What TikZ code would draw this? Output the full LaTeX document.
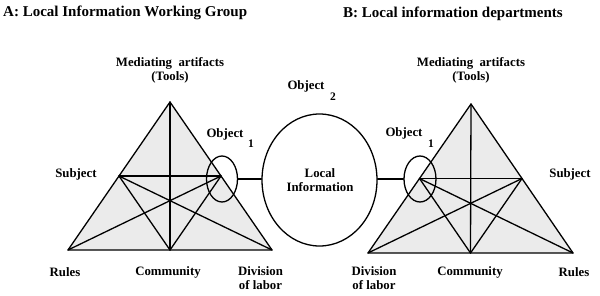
\documentclass[tikz,border=0pt]{standalone}
\usepackage{fontspec}
\setmainfont{Liberation Serif}
\usetikzlibrary{shapes.geometric,calc}
\begin{document}
\begin{tikzpicture}[x=1pt,y=-1pt,
 lbl/.style={font=\bfseries\fontsize{12.8}{14}\selectfont, inner sep=0pt, align=center},
 ttl/.style={font=\bfseries\fontsize{15}{17}\selectfont, inner sep=0pt},
 subn/.style={font=\bfseries\fontsize{11.5}{12}\selectfont, inner sep=0pt},
 edge/.style={line width=1.3pt, line join=round, line cap=round},
 tri/.style={fill=black!8, line width=1.3pt, line join=round},
 oval/.style={draw, ellipse, line width=1.3pt, inner sep=0pt}]
\useasboundingbox (0,0) rectangle (600,295);

% titles
\node[ttl, anchor=west] (tA) at (3,13) {A: Local Information Working Group};
\node[ttl] (tB) at (453,14) {B: Local information departments};

% ---------- left triangle ----------
\coordinate (Lap) at (170,102);
\coordinate (Lr) at (68,250);
\coordinate (Ld) at (272,250);
\coordinate (Ls) at ($(Lap)!0.5!(Lr)$);
\coordinate (Lo) at ($(Lap)!0.5!(Ld)$);
\coordinate (Lc) at ($(Lr)!0.5!(Ld)$);
\draw[tri] (Lap) -- (Lr) -- (Ld) -- cycle;
\draw[edge] (Lap) -- (Lc);
\draw[edge] (Ls) -- (Lo);
\draw[edge] (Ls) -- (Lc);
\draw[edge] (Lo) -- (Lc);
\draw[edge] (Ls) -- (Ld);
\draw[edge] (Lo) -- (Lr);

% ---------- right triangle ----------
\coordinate (Rap) at (471,104);
\coordinate (Rd) at (368,253);
\coordinate (Rr) at (573,253);
\coordinate (Ro) at ($(Rap)!0.5!(Rd)$);
\coordinate (Rs) at ($(Rap)!0.5!(Rr)$);
\coordinate (Rc) at ($(Rd)!0.5!(Rr)$);
\draw[tri] (Rap) -- (Rd) -- (Rr) -- cycle;
\draw[edge] (Rap) -- (Rc);
\draw[edge] (Ro) -- (Rs);
\draw[edge] (Ro) -- (Rc);
\draw[edge] (Rs) -- (Rc);
\draw[edge] (Ro) -- (Rr);
\draw[edge] (Rs) -- (Rd);

% ---------- ellipses ----------
\node[oval, minimum width=31pt, minimum height=46pt] (e1) at (222,179) {};
\node[oval, minimum width=32pt, minimum height=46pt] (e2) at (420,179) {};
\node[oval, minimum width=115pt, minimum height=132pt] (big) at (319.5,180) {};
\node[lbl] (bigt) at (320,180) {Local\\Information};
\draw[edge] (e1.east) -- (big.west |- e1.east);
\draw[edge] (big.east |- e2.west) -- (e2.west);

% ---------- labels left ----------
\node[lbl] (Lmed) at (170,70.5) {Mediating~ artifacts\\(Tools)};
\node[lbl] (Lobj) at (225,134) {Object};
\node[subn] (Lobj1) at (251,144) {1};
\node[lbl] (Lsub) at (76,174) {Subject};
\node[lbl] (Lrul) at (65,272) {Rules};
\node[lbl] (Lcom) at (168,272) {Community};
\node[lbl] (Ldiv) at (260.5,278.5) {Division\\of labor};

% ---------- labels middle ----------
\node[lbl] (Mobj) at (306,86) {Object};
\node[subn] (Mobj2) at (333,97) {2};

% ---------- labels right ----------
\node[lbl] (Rmed) at (471,70.5) {Mediating~ artifacts\\(Tools)};
\node[lbl] (Robj) at (404,133) {Object};
\node[subn] (Robj1) at (431,144) {1};
\node[lbl] (Rsub) at (570,174) {Subject};
\node[lbl] (Rdiv) at (374,278.5) {Division\\of labor};
\node[lbl] (Rcom) at (470,272) {Community};
\node[lbl] (Rrul) at (574,272) {Rules};
\end{tikzpicture}
\end{document}
